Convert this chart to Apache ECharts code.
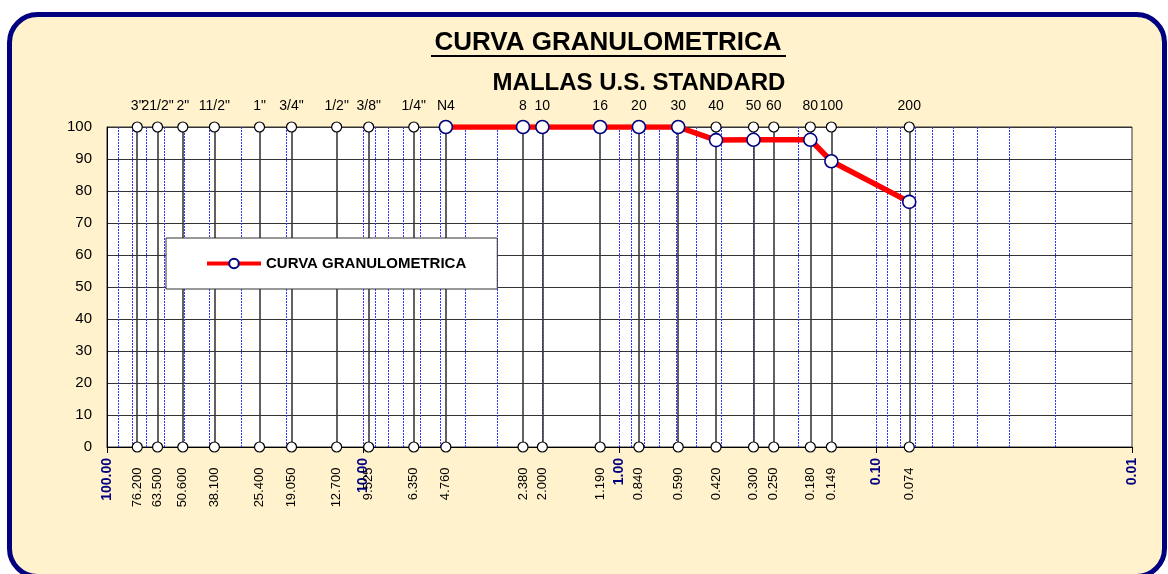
<!DOCTYPE html>
<html>
<head>
<meta charset="utf-8">
<script src="https://cdn.jsdelivr.net/npm/echarts@6/dist/echarts.min.js"></script>
<style>
  html, body { margin: 0; padding: 0; background: #fff; }
  #chart { width: 1168px; height: 574px; }
</style>
</head>
<body>
<div id="chart"></div>
<script>
// sieve names (top) and openings in mm (bottom)
var sieveNames = ['3"', '21/2"', '2"', '11/2"', '1"', '3/4"', '1/2"', '3/8"', '1/4"', 'N4',
  '8', '10', '16', '20', '30', '40', '50', '60', '80', '100', '200'];
var openings = [76.2, 63.5, 50.6, 38.1, 25.4, 19.05, 12.7, 9.525, 6.35, 4.76,
  2.38, 2.0, 1.19, 0.84, 0.59, 0.42, 0.30, 0.25, 0.18, 0.149, 0.074];
// % passing, null where no value
var passing = [null, null, null, null, null, null, null, null, null, 100,
  100, 100, 100, 100, 100, 95.9, 96.0, null, 96.0, 89.3, 76.6];

var chart = echarts.init(document.getElementById('chart'));
window.onresize = function() {
  chart.resize();
};

// blue dotted minor lines 1..9 x 10^n
var minorLines = [];
[0.01, 0.1, 1, 10].forEach(function(d) {
  for (var k = 1; k <= 9; k++) {
    var v = +(k * d).toPrecision(3);
    if (v > 0.01 && v < 100) minorLines.push({ xAxis: v });
  }
});

var curve = [];
openings.forEach(function(o, i) {
  if (passing[i] != null) curve.push([o, passing[i]]);
});

var option = {
  animation: false,
  backgroundColor: '#ffffff',
  graphic: [
    {
      type: 'rect', z: -100,
      shape: { x: 9.5, y: 14.5, width: 1155, height: 562, r: 28 },
      style: { fill: '#FFF2CC', stroke: '#000080', lineWidth: 5 }
    },
    {
      type: 'text', z: 10,
      style: { x: 608, y: 43, text: 'CURVA GRANULOMETRICA', font: 'bold 26px Arial',
        fill: '#000', textAlign: 'center', textVerticalAlign: 'middle' }
    },
    {
      type: 'line', z: 10,
      shape: { x1: 431, y1: 56, x2: 786, y2: 56 },
      style: { stroke: '#000', lineWidth: 2 }
    },
    {
      type: 'text', z: 10,
      style: { x: 639, y: 83, text: 'MALLAS U.S. STANDARD', font: 'bold 24px Arial',
        fill: '#000', textAlign: 'center', textVerticalAlign: 'middle' }
    }
  ],
  grid: {
    left: 107, right: 36, top: 127, bottom: 127,
    show: true, backgroundColor: '#ffffff', borderColor: '#333', borderWidth: 1
  },
  legend: {
    data: ['CURVA GRANULOMETRICA'],
    left: 166, top: 238,
    padding: [18, 31, 18, 39],
    backgroundColor: '#ffffff',
    borderColor: '#333', borderWidth: 1,
    itemWidth: 54, itemHeight: 12, itemGap: 5,
    lineStyle: { width: 4 },
    textStyle: { fontFamily: 'Arial', fontWeight: 'bold', fontSize: 15, color: '#000' }
  },
  xAxis: {
    type: 'log', logBase: 10, min: 0.01, max: 100, inverse: true,
    axisLine: { lineStyle: { color: '#000', width: 1 } },
    axisTick: { show: true, length: 6, lineStyle: { color: '#000' } },
    splitLine: { show: false },
    axisLabel: {
      rotate: 90, margin: 11,
      fontFamily: 'Arial', fontWeight: 'bold', fontSize: 14, color: '#000080',
      formatter: function(v) { return (+v).toFixed(2); }
    }
  },
  yAxis: {
    type: 'value', min: 0, max: 100, interval: 10,
    axisLine: { show: true, lineStyle: { color: '#000' } },
    axisTick: { show: false },
    splitLine: { lineStyle: { color: '#333', width: 1 } },
    axisLabel: { margin: 15, fontFamily: 'Arial', fontSize: 15, color: '#000' }
  },
  series: [
    {
      name: 'minor', type: 'scatter', data: [], silent: true, z: 1,
      markLine: {
        z: 1, silent: true, symbol: ['none', 'none'], label: { show: false },
        lineStyle: { color: '#3535ff', width: 1, type: [2, 1], opacity: 1 },
        emphasis: { disabled: true },
        data: minorLines
      }
    },
    {
      name: 'stems', type: 'scatter', data: [], silent: true, z: 1,
      markLine: {
        z: 2, silent: true, symbol: ['none', 'none'], label: { show: false },
        lineStyle: { color: '#3a3a3a', width: 1.6, type: 'solid', opacity: 1 },
        emphasis: { disabled: true },
        data: openings.map(function(o) { return [{ coord: [o, 0] }, { coord: [o, 100] }]; })
      }
    },
    {
      name: 'top', type: 'scatter', z: 3,
      symbol: 'circle', symbolSize: 10,
      itemStyle: { color: '#fff', borderColor: '#000', borderWidth: 1.2, opacity: 1 },
      data: openings.map(function(o, i) { return { value: [o, 100], name: sieveNames[i] }; }),
      label: {
        show: true, position: 'top', distance: 8,
        fontFamily: 'Arial', fontSize: 14, color: '#000',
        formatter: function(p) { return p.name; }
      }
    },
    {
      name: 'bottom', type: 'scatter', z: 3,
      symbol: 'circle', symbolSize: 10,
      itemStyle: { color: '#fff', borderColor: '#000', borderWidth: 1.2, opacity: 1 },
      data: openings.map(function(o) { return [o, 0]; }),
      label: {
        show: true, position: 'bottom', distance: 15,
        rotate: 90, align: 'right', verticalAlign: 'middle',
        fontFamily: 'Arial', fontSize: 13, color: '#000',
        formatter: function(p) { return p.value[0].toFixed(3); }
      }
    },
    {
      name: 'CURVA GRANULOMETRICA', type: 'line', z: 5,
      data: curve,
      lineStyle: { color: '#ff0000', width: 5.5 },
      symbol: 'circle', symbolSize: 13, showSymbol: true,
      itemStyle: { color: '#ffffff', borderColor: '#000080', borderWidth: 1.6 }
    }
  ]
};
chart.setOption(option);
</script>
</body>
</html>
